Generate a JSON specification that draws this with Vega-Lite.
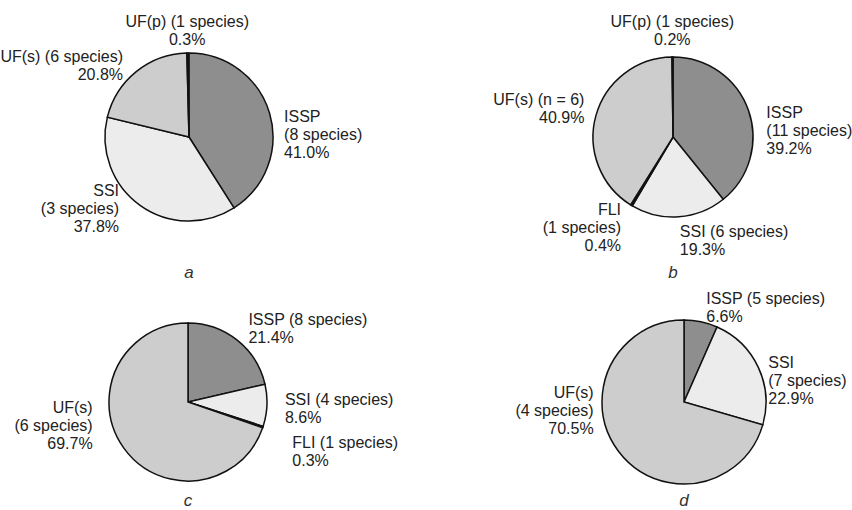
{
  "$schema": "https://vega.github.io/schema/vega-lite/v6.json",
  "background": "white",
  "padding": 0,
  "config": {"view": {"stroke": null}, "text": {"font": "Liberation Sans", "fontSize": 16, "lineHeight": 18, "lineBreak": "\n", "color": "#222", "baseline": "middle"}},
  "data": {"values": [
    {"panel": "a", "cat": "ISSP", "ord": 1, "value": 41.0, "label": "ISSP\n(8 species)\n41.0%"},
    {"panel": "a", "cat": "SSI", "ord": 2, "value": 37.8, "label": "SSI\n(3 species)\n37.8%"},
    {"panel": "a", "cat": "UF(s)", "ord": 4, "value": 20.8, "label": "UF(s) (6 species)\n20.8%"},
    {"panel": "a", "cat": "UF(p)", "ord": 5, "value": 0.3, "label": "UF(p) (1 species)\n0.3%"},
    {"panel": "b", "cat": "ISSP", "ord": 1, "value": 39.2, "label": "ISSP\n(11 species)\n39.2%"},
    {"panel": "b", "cat": "SSI", "ord": 2, "value": 19.3, "label": "SSI (6 species)\n19.3%"},
    {"panel": "b", "cat": "FLI", "ord": 3, "value": 0.4, "label": "FLI\n(1 species)\n0.4%"},
    {"panel": "b", "cat": "UF(s)", "ord": 4, "value": 40.9, "label": "UF(s) (n = 6)\n40.9%"},
    {"panel": "b", "cat": "UF(p)", "ord": 5, "value": 0.2, "label": "UF(p) (1 species)\n0.2%"},
    {"panel": "c", "cat": "ISSP", "ord": 1, "value": 21.4, "label": "ISSP (8 species)\n21.4%"},
    {"panel": "c", "cat": "SSI", "ord": 2, "value": 8.6, "label": "SSI (4 species)\n8.6%"},
    {"panel": "c", "cat": "FLI", "ord": 3, "value": 0.3, "label": "FLI (1 species)\n0.3%"},
    {"panel": "c", "cat": "UF(s)", "ord": 4, "value": 69.7, "label": "UF(s)\n(6 species)\n69.7%"},
    {"panel": "d", "cat": "ISSP", "ord": 1, "value": 6.6, "label": "ISSP (5 species)\n6.6%"},
    {"panel": "d", "cat": "SSI", "ord": 2, "value": 22.9, "label": "SSI\n(7 species)\n22.9%"},
    {"panel": "d", "cat": "UF(s)", "ord": 4, "value": 70.5, "label": "UF(s)\n(4 species)\n70.5%"}
  ]},
  "bounds": "flush",
  "columns": 2,
  "spacing": {"row": 25, "column": 116},
  "concat": [
    {
      "width": 376, "height": 274,
      "title": {"text": "a", "orient": "bottom", "anchor": "middle", "font": "Liberation Sans", "fontSize": 17, "fontStyle": "italic", "fontWeight": "normal", "color": "#333", "baseline": "alphabetic", "offset": 4},
      "transform": [
        {"filter": "datum.panel==='a'"},
        {"window": [{"op": "sum", "field": "value", "as": "cum"}], "sort": [{"field": "ord", "order": "ascending"}], "frame": [null, 0]},
        {"calculate": "datum.cum-datum.value", "as": "start"},
        {"calculate": "datum.cum-datum.value/2", "as": "mid"}
      ],
      "layer": [
        {"mark": {"type": "arc", "outerRadius": 84, "stroke": "#111", "strokeWidth": 1.5},
         "encoding": {
           "theta": {"field": "start", "type": "quantitative", "scale": {"domain": [0, 100]}},
           "theta2": {"field": "cum"},
           "color": {"field": "cat", "type": "nominal", "scale": {"domain": ["ISSP", "SSI", "FLI", "UF(s)", "UF(p)"], "range": ["#8e8e8e", "#ececec", "#000000", "#cdcdcd", "#707070"]}, "legend": null}
         }},
        {"transform": [{"filter": "datum.mid<45"}],
         "mark": {"type": "text", "radius": 99, "dy": 8, "align": "left"},
         "encoding": {"theta": {"field": "mid", "type": "quantitative"}, "text": {"field": "label"}}},
        {"transform": [{"filter": "datum.mid>55 && datum.mid<75"}],
         "mark": {"type": "text", "radius": 120, "dy": -44, "align": "right"},
         "encoding": {"theta": {"field": "mid", "type": "quantitative"}, "text": {"field": "label"}}},
        {"transform": [{"filter": "datum.mid>=75 && datum.mid<97"}],
         "mark": {"type": "text", "radius": 105, "dy": 2, "align": "right"},
         "encoding": {"theta": {"field": "mid", "type": "quantitative"}, "text": {"field": "label"}}},
        {"transform": [{"filter": "datum.mid>=97"}],
         "mark": {"type": "text", "radius": 115, "align": "center"},
         "encoding": {"theta": {"field": "mid", "type": "quantitative"}, "text": {"field": "label"}}}
      ]
    },
    {
      "width": 360, "height": 274,
      "title": {"text": "b", "orient": "bottom", "anchor": "middle", "font": "Liberation Sans", "fontSize": 17, "fontStyle": "italic", "fontWeight": "normal", "color": "#333", "baseline": "alphabetic", "offset": 4},
      "transform": [
        {"filter": "datum.panel==='b'"},
        {"window": [{"op": "sum", "field": "value", "as": "cum"}], "sort": [{"field": "ord", "order": "ascending"}], "frame": [null, 0]},
        {"calculate": "datum.cum-datum.value", "as": "start"},
        {"calculate": "datum.cum-datum.value/2", "as": "mid"}
      ],
      "layer": [
        {"mark": {"type": "arc", "outerRadius": 80, "stroke": "#111", "strokeWidth": 1.5},
         "encoding": {
           "theta": {"field": "start", "type": "quantitative", "scale": {"domain": [0, 100]}},
           "theta2": {"field": "cum"},
           "color": {"field": "cat", "type": "nominal", "scale": {"domain": ["ISSP", "SSI", "FLI", "UF(s)", "UF(p)"], "range": ["#8e8e8e", "#ececec", "#000000", "#cdcdcd", "#707070"]}, "legend": null}
         }},
        {"transform": [{"filter": "datum.mid<45"}],
         "mark": {"type": "text", "radius": 99, "dy": 9, "align": "left"},
         "encoding": {"theta": {"field": "mid", "type": "quantitative"}, "text": {"field": "label"}}},
        {"transform": [{"filter": "datum.mid>=45 && datum.mid<=55"}],
         "mark": {"type": "text", "radius": 95, "align": "left"},
         "encoding": {"theta": {"field": "mid", "type": "quantitative"}, "text": {"field": "label"}}},
        {"transform": [{"filter": "datum.mid>55 && datum.mid<75"}],
         "mark": {"type": "text", "radius": 100, "dy": -12, "align": "right"},
         "encoding": {"theta": {"field": "mid", "type": "quantitative"}, "text": {"field": "label"}}},
        {"transform": [{"filter": "datum.mid>=75 && datum.mid<97"}],
         "mark": {"type": "text", "radius": 92, "dy": -12, "align": "right"},
         "encoding": {"theta": {"field": "mid", "type": "quantitative"}, "text": {"field": "label"}}},
        {"transform": [{"filter": "datum.mid>=97"}],
         "mark": {"type": "text", "radius": 115, "align": "center"},
         "encoding": {"theta": {"field": "mid", "type": "quantitative"}, "text": {"field": "label"}}}
      ]
    },
    {
      "width": 374, "height": 206,
      "title": {"text": "c", "orient": "bottom", "anchor": "middle", "font": "Liberation Sans", "fontSize": 17, "fontStyle": "italic", "fontWeight": "normal", "color": "#333", "baseline": "alphabetic", "offset": 1},
      "transform": [
        {"filter": "datum.panel==='c'"},
        {"window": [{"op": "sum", "field": "value", "as": "cum"}], "sort": [{"field": "ord", "order": "ascending"}], "frame": [null, 0]},
        {"calculate": "datum.cum-datum.value", "as": "start"},
        {"calculate": "datum.cum-datum.value/2", "as": "mid"}
      ],
      "layer": [
        {"mark": {"type": "arc", "outerRadius": 79, "stroke": "#111", "strokeWidth": 1.5},
         "encoding": {
           "theta": {"field": "start", "type": "quantitative", "scale": {"domain": [0, 100]}},
           "theta2": {"field": "cum"},
           "color": {"field": "cat", "type": "nominal", "scale": {"domain": ["ISSP", "SSI", "FLI", "UF(s)", "UF(p)"], "range": ["#8e8e8e", "#ececec", "#000000", "#cdcdcd", "#707070"]}, "legend": null}
         }},
        {"transform": [{"filter": "datum.mid<45 && datum.value>=1"}],
         "mark": {"type": "text", "radius": 97, "dy": -6, "align": "left"},
         "encoding": {"theta": {"field": "mid", "type": "quantitative"}, "text": {"field": "label"}}},
        {"transform": [{"filter": "datum.mid<45 && datum.value<1"}],
         "mark": {"type": "text", "radius": 110, "dy": 6, "align": "left"},
         "encoding": {"theta": {"field": "mid", "type": "quantitative"}, "text": {"field": "label"}}},
        {"transform": [{"filter": "datum.mid>55 && datum.mid<97"}],
         "mark": {"type": "text", "radius": 117, "dy": -62, "align": "right"},
         "encoding": {"theta": {"field": "mid", "type": "quantitative"}, "text": {"field": "label"}}}
      ]
    },
    {
      "width": 382, "height": 206,
      "title": {"text": "d", "orient": "bottom", "anchor": "middle", "font": "Liberation Sans", "fontSize": 17, "fontStyle": "italic", "fontWeight": "normal", "color": "#333", "baseline": "alphabetic", "offset": 1},
      "transform": [
        {"filter": "datum.panel==='d'"},
        {"window": [{"op": "sum", "field": "value", "as": "cum"}], "sort": [{"field": "ord", "order": "ascending"}], "frame": [null, 0]},
        {"calculate": "datum.cum-datum.value", "as": "start"},
        {"calculate": "datum.cum-datum.value/2", "as": "mid"}
      ],
      "layer": [
        {"mark": {"type": "arc", "outerRadius": 82, "stroke": "#111", "strokeWidth": 1.5},
         "encoding": {
           "theta": {"field": "start", "type": "quantitative", "scale": {"domain": [0, 100]}},
           "theta2": {"field": "cum"},
           "color": {"field": "cat", "type": "nominal", "scale": {"domain": ["ISSP", "SSI", "FLI", "UF(s)", "UF(p)"], "range": ["#8e8e8e", "#ececec", "#000000", "#cdcdcd", "#707070"]}, "legend": null}
         }},
        {"transform": [{"filter": "datum.mid<8"}],
         "mark": {"type": "text", "radius": 108, "dy": 3, "align": "left"},
         "encoding": {"theta": {"field": "mid", "type": "quantitative"}, "text": {"field": "label"}}},
        {"transform": [{"filter": "datum.mid>=8 && datum.mid<45"}],
         "mark": {"type": "text", "radius": 93, "align": "left"},
         "encoding": {"theta": {"field": "mid", "type": "quantitative"}, "text": {"field": "label"}}},
        {"transform": [{"filter": "datum.mid>55 && datum.mid<97"}],
         "mark": {"type": "text", "radius": 113, "dy": -77, "align": "right"},
         "encoding": {"theta": {"field": "mid", "type": "quantitative"}, "text": {"field": "label"}}}
      ]
    }
  ]
}
